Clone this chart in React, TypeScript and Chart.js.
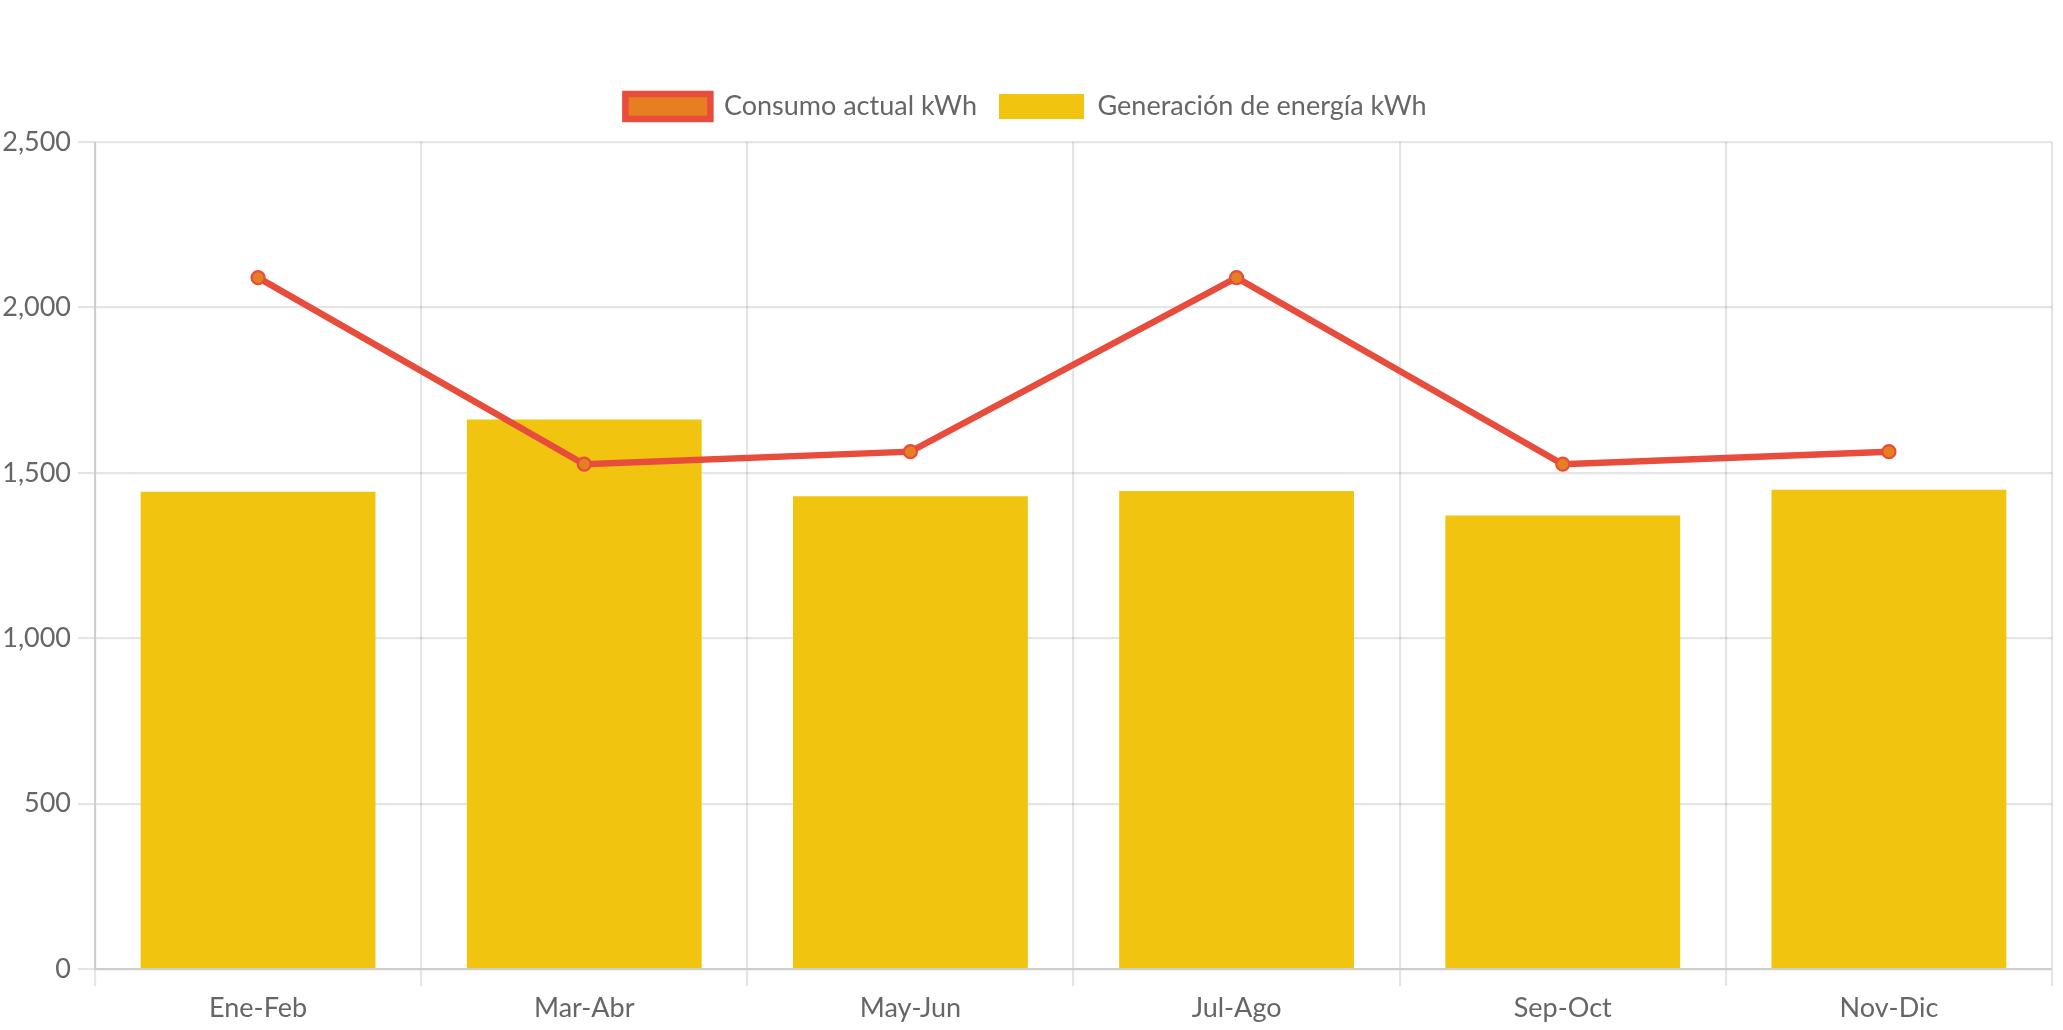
import React, { useEffect, useRef } from "react";
import { Chart, registerables } from "chart.js";

Chart.register(...registerables);

const categories = ["Ene-Feb", "Mar-Abr", "May-Jun", "Jul-Ago", "Sep-Oct", "Nov-Dic"];
const consumoValues = [2090, 1526, 1564, 2090, 1526, 1564];
const generacionValues = [1443, 1661, 1429, 1445, 1371, 1449];
const consumoLabel = "Consumo actual kWh";
const generacionLabel = "Generación de energía kWh";
const yMin = 0;
const yMax = 2500;
const yStep = 500;

const FONT = "Lato, 'DejaVu Sans', sans-serif";
const TEXT = "#666666";

export default function App() {
  const ref = useRef<HTMLCanvasElement | null>(null);

  useEffect(() => {
    if (!ref.current) return;
    const legendSpacer = {
      id: "legendSpacer",
      beforeInit(chart: any) {
        const orig = chart.legend.fit;
        chart.legend.fit = function fit() {
          orig.bind(chart.legend)();
          this.height += 12;
        };
      },
    };
    const chart = new Chart(ref.current, {
      type: "bar",
      data: {
        labels: categories,
        datasets: [
          {
            type: "line",
            label: consumoLabel,
            data: consumoValues,
            borderColor: "#e74c3c",
            backgroundColor: "#e67e22",
            borderWidth: 6.5,
            pointRadius: 6.5,
            pointBorderWidth: 2.2,
            pointBackgroundColor: "#e67e22",
            pointBorderColor: "#e74c3c",
            fill: false,
            tension: 0,
          } as any,
          {
            type: "bar",
            label: generacionLabel,
            data: generacionValues,
            backgroundColor: "#f1c40f",
            borderWidth: 0,
          },
        ],
      },
      options: {
        animation: false,
        responsive: true,
        maintainAspectRatio: false,
        layout: { padding: { top: 71, right: 11, bottom: 0, left: 0 } },
        plugins: {
          legend: {
            display: true,
            position: "top",
            labels: {
              boxWidth: 85,
              boxHeight: 25,
              padding: 22,
              color: TEXT,
              font: { family: FONT, size: 27 },
            },
          },
          tooltip: { enabled: false },
        },
        scales: {
          x: {
            afterFit(scale: any) {
              scale.height = 61;
            },
            grid: { color: "rgba(0,0,0,0.1)", lineWidth: 2.17, tickLength: 17, offset: true },
            border: { color: "rgba(0,0,0,0.1)", width: 2.17 },
            ticks: { color: TEXT, padding: 6.5, font: { family: FONT, size: 27 } },
          },
          y: {
            min: yMin,
            max: yMax,
            afterFit(scale: any) {
              scale.width = 95;
            },
            grid: { color: "rgba(0,0,0,0.1)", lineWidth: 2.17, tickLength: 17 },
            border: { color: "rgba(0,0,0,0.1)", width: 2.17 },
            ticks: { stepSize: yStep, color: TEXT, padding: 7, font: { family: FONT, size: 27 } },
          },
        },
      },
      plugins: [legendSpacer],
    });
    return () => chart.destroy();
  }, []);

  return (
    <div style={{ position: "fixed", left: 0, top: 0, width: 2063, height: 1030, background: "#fff" }}>
      <canvas ref={ref} />
    </div>
  );
}
